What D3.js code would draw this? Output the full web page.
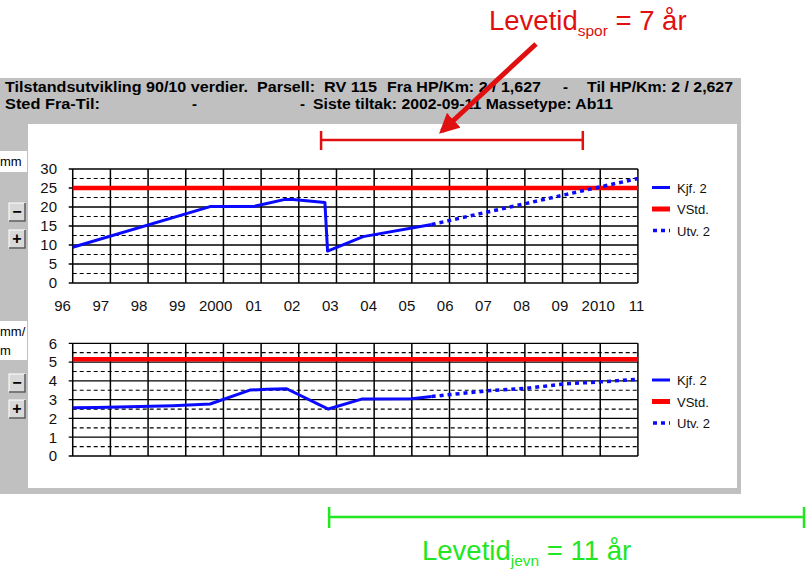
<!DOCTYPE html>
<html><head><meta charset="utf-8">
<script src="https://cdn.jsdelivr.net/npm/d3@7"></script>
<style>
html,body{margin:0;padding:0;background:#fff;}
svg{display:block;font-family:"Liberation Sans",Arial,sans-serif;}
</style></head>
<body><svg id="c" width="806" height="572"></svg>
<script>
// ---------- data ----------
const yearLabels = ["96","97","98","99","2000","01","02","03","04","05","06","07","08","09","2010","11"];
const yearStart = 1996, yearEnd = 2011;
const plotStartYear = 1996.28, plotEndYear = 2011.05;
const gridColumns = 15;

const sporTicks = [0,5,10,15,20,25,30];
const sporKjf = [[1996.28,9.4],[1999.87,20.1],[2000.99,20.1],[2001.83,22.0],[2002.04,22.0],[2002.87,21.2],[2002.94,8.4],[2003.87,12.2],[2005.66,15.4]];
const sporUtv = [[2005.66,15.4],[2011.05,27.5]];
const sporVStd = 25;

const jevnTicks = [0,1,2,3,4,5,6];
const jevnKjf = [[1996.28,2.57],[1996.91,2.58],[1998.9,2.68],[1999.87,2.77],[2000.91,3.51],[2001.35,3.55],[2001.87,3.58],[2002.96,2.5],[2003.83,3.03],[2005.14,3.05],[2005.66,3.17]];
const jevnUtv = [[2005.66,3.17],[2007.12,3.47],[2008.12,3.6],[2009.1,3.83],[2010.08,3.95],[2011.05,4.08]];
const jevnVStd = 5.15;

const legendLabels = ["Kjf. 2","VStd.","Utv. 2"];
const sporSpan = [2002.77, 2009.61];
const jevnSpan = [2002.98, 2015.39];

// ---------- drawing ----------
const svg = d3.select("#c");
const BLUE = "#0a0aff", RED = "#ff0000";

// panel
svg.append("rect").attr("x",0).attr("y",78).attr("width",741).attr("height",416).attr("fill","#c0c0c0");
svg.append("rect").attr("x",28).attr("y",124).attr("width",709).attr("height",364).attr("fill","#fff");

// header text (x, text, width)
const hdr = svg.append("g").attr("font-size",14).attr("font-weight","bold").attr("fill","#000");
const l1 = [[5,"Tilstandsutvikling 90/10 verdier.",243],[257,"Parsell:",58],[324,"RV 115",53],[387,"Fra HP/Km: 2 / 1,627",154],[563,"-",5],[587,"Til HP/Km: 2 / 2,627",146]];
const l2 = [[5,"Sted Fra-Til:",95],[192,"-",5],[300,"-",5],[313,"Siste tiltak: 2002-09-11 Massetype: Ab11",300]];
l1.forEach(d=>hdr.append("text").attr("x",d[0]).attr("y",92).attr("textLength",d[2]).attr("lengthAdjust","spacingAndGlyphs").text(d[1]));
l2.forEach(d=>hdr.append("text").attr("x",d[0]).attr("y",109).attr("textLength",d[2]).attr("lengthAdjust","spacingAndGlyphs").text(d[1]));

// left controls
function unitBox(y,h,lines){
  svg.append("rect").attr("x",0).attr("y",y).attr("width",27).attr("height",h).attr("fill","#fff");
  lines.forEach((t,i)=>svg.append("text").attr("x",0).attr("y",y+15+i*19).attr("font-size",13).text(t));
}
unitBox(151,21,["mm"]);
unitBox(321,39,["mm/","m"]);
function button(y,sym){
  const g = svg.append("g");
  g.append("rect").attr("x",9).attr("y",y).attr("width",16).attr("height",18).attr("fill","#d8d8d8").attr("stroke","#fff");
  g.append("path").attr("d",`M9,${y+18}H25V${y}`).attr("fill","none").attr("stroke","#555").attr("stroke-width",1.5);
  g.append("text").attr("x",17).attr("y",y+14).attr("text-anchor","middle").attr("font-size",16).attr("font-weight","bold").text(sym);
}
button(203,"−");button(230,"+");button(374,"−");button(400,"+");

const x = d3.scaleLinear().domain([yearStart,yearEnd]).range([62,636]);
const xl = x(plotStartYear), xr = x(plotEndYear);

function chart(opts){
  const y = d3.scaleLinear().domain(opts.domain).range(opts.range);
  const g = svg.append("g");
  const step = opts.ticks[1]-opts.ticks[0];
  opts.ticks.slice(0,-1).forEach(t=>{
    g.append("line").attr("x1",xl).attr("x2",xr).attr("y1",y(t+step/2)).attr("y2",y(t+step/2))
      .attr("stroke","#000").attr("stroke-width",1.2).attr("stroke-dasharray","4,3");
  });
  opts.ticks.forEach(t=>{
    g.append("line").attr("x1",xl-4).attr("x2",xr).attr("y1",y(t)).attr("y2",y(t)).attr("stroke","#000").attr("stroke-width",1.3);
  });
  d3.range(gridColumns+1).forEach(i=>{
    const gx = xl + i*(xr-xl)/gridColumns;
    g.append("line").attr("x1",gx).attr("x2",gx).attr("y1",y(opts.domain[1])).attr("y2",y(0)).attr("stroke","#000").attr("stroke-width",1.5);
  });
  const ya = d3.axisLeft(y).tickValues(opts.ticks).tickFormat(d3.format("d")).tickSize(0).tickPadding(0);
  const ag = g.append("g").attr("transform",`translate(57,0)`).call(ya);
  ag.select(".domain").remove();
  ag.selectAll("text").attr("font-size",15).attr("font-family","Liberation Sans, Arial, sans-serif").attr("fill","#111");
  if(opts.xLabels){
    const xa = d3.axisBottom(x).tickValues(d3.range(yearStart,yearEnd+1)).tickFormat((d,i)=>yearLabels[i]).tickSize(0).tickPadding(0);
    const xg = g.append("g").attr("transform",`translate(0,${y(0)+17})`).call(xa);
    xg.select(".domain").remove();
    xg.selectAll("text").attr("font-size",15).attr("font-family","Liberation Sans, Arial, sans-serif").attr("fill","#111");
  }
  const line = d3.line().x(d=>x(d[0])).y(d=>y(d[1]));
  g.append("line").attr("x1",xl).attr("x2",xr).attr("y1",y(opts.vstd)).attr("y2",y(opts.vstd)).attr("stroke",RED).attr("stroke-width",4.5);
  g.append("path").datum(opts.utv).attr("d",line).attr("fill","none").attr("stroke",BLUE).attr("stroke-width",3.5).attr("stroke-dasharray","4,4");
  g.append("path").datum(opts.kjf).attr("d",line).attr("fill","none").attr("stroke",BLUE).attr("stroke-width",3).attr("stroke-linejoin","round");
  const lg = g.append("g");
  legendLabels.forEach((lab,i)=>{
    const ly = opts.legendY + i*21.5;
    const ln = lg.append("line").attr("x1",652).attr("x2",670).attr("y1",ly).attr("y2",ly);
    if(i===0) ln.attr("stroke",BLUE).attr("stroke-width",3);
    if(i===1) ln.attr("stroke",RED).attr("stroke-width",5);
    if(i===2) ln.attr("stroke",BLUE).attr("stroke-width",3.5).attr("stroke-dasharray","4,4").attr("x1",653);
    lg.append("text").attr("x",677).attr("y",ly+5).attr("font-size",13).attr("fill","#111").text(lab);
  });
}
chart({domain:[0,30],range:[283,169],ticks:sporTicks,kjf:sporKjf,utv:sporUtv,vstd:sporVStd,xLabels:true,legendY:187.5});
chart({domain:[0,6],range:[456,343.3],ticks:jevnTicks,kjf:jevnKjf,utv:jevnUtv,vstd:jevnVStd,xLabels:false,legendY:380});

// annotations
const RED2 = "#e01010", GREEN = "#22e622";
function bracket(span,yy,col,h1,h2){
  const a = x(span[0]), b = x(span[1]);
  svg.append("path").attr("d",`M${a},${yy}H${b}M${a},${yy-h1}V${yy+h2}M${b},${yy-h1}V${yy+h2}`)
    .attr("fill","none").attr("stroke",col).attr("stroke-width",2.5);
}
bracket(sporSpan,140,RED2,9,10);
bracket(jevnSpan,517,GREEN,10,11);

svg.append("defs").append("marker").attr("id","ah").attr("viewBox","0 0 10 10").attr("refX",8).attr("refY",5)
  .attr("markerWidth",4).attr("markerHeight",4).attr("orient","auto")
  .append("path").attr("d","M0,0L10,5L0,10Z").attr("fill",RED2);
svg.append("line").attr("x1",536).attr("y1",44).attr("x2",442).attr("y2",131).attr("stroke",RED2).attr("stroke-width",5).attr("marker-end","url(#ah)");

function label(xx,yy,col,main,sub,rest){
  const t = svg.append("text").attr("x",xx).attr("y",yy).attr("fill",col).attr("font-size",27.5);
  t.append("tspan").text(main);
  t.append("tspan").attr("font-size",15.5).attr("dy",6).text(sub);
  t.append("tspan").attr("dy",-6).text(" " + rest);
}
label(489,30,RED2,"Levetid","spor","= 7 år");
label(422,560,GREEN,"Levetid","jevn","= 11 år");
</script></body></html>
